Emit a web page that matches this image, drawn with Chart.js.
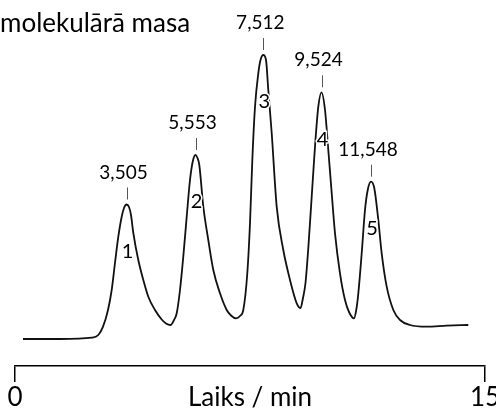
<!DOCTYPE html>
<html><head><meta charset="utf-8">
<script src="https://cdn.jsdelivr.net/npm/chart.js@4/dist/chart.umd.min.js"></script>
<style>html,body{margin:0;padding:0;background:#fff}#wrap{width:496px;height:408px}</style>
</head><body><div id="wrap"><canvas id="c" width="496" height="408"></canvas></div>
<script>
// Time (min) and detector signal (arbitrary units, baseline ~0)
const timeMin = [0.255,1.436,2.457,2.659,2.809,2.968,3.086,3.191,3.297,3.405,3.479,3.559,3.638,3.702,3.776,3.935,4.095,4.254,4.468,4.682,4.819,4.963,5.074,5.161,5.266,5.371,5.480,5.585,5.671,5.761,5.824,5.882,6.010,6.169,6.329,6.543,6.756,6.894,7.053,7.181,7.286,7.414,7.500,7.574,7.660,7.765,7.835,7.925,8.011,8.084,8.193,8.352,8.563,8.777,8.991,9.112,9.191,9.271,9.361,9.469,9.574,9.680,9.782,9.894,9.999,10.108,10.213,10.372,10.532,10.660,10.819,10.896,10.957,11.065,11.170,11.257,11.362,11.467,11.595,11.703,11.863,12.074,12.287,12.606,13.139,13.778,14.467];
const signal = [0,0,1.3,4,12.3,29,49,76,102.3,122.3,131,134.5,132,124,106,79,59,42.3,29,19.5,15.5,14,19,25.7,49,82.3,122.3,159,177.3,184,181,174,132.3,99,69,45.7,29,23.5,20.7,23,29,65.7,115.7,179,232.3,265.7,279,284,279,249,205.7,132.3,89,59,35.7,31,41,56,91,142.3,192.3,232.3,246.7,229,189,145.7,105.7,65.7,39,27,20.7,30,45.7,85.7,129,149,157.3,150.7,119,85.7,52.3,29,19,14,12.3,13.3,14];
const peakTimes = [3.559,5.761,7.925,9.782,11.362];
const peakMasses = ['3,505','5,553','7,512','9,524','11,548'];
const peakNumbers = ['1','2','3','4','5'];
const xTicks = [0,15];
const titleText = 'molekulārā masa';
const xTitle = 'Laiks / min';

const FONT = 'Lato, "Open Sans", sans-serif';

const annot = {
  id: 'annot',
  afterDatasetsDraw(chart) {
    const {ctx, scales: {x, y}} = chart;
    ctx.save();
    ctx.fillStyle = '#000';
    ctx.font = '26px ' + FONT;
    ctx.textAlign = 'left';
    ctx.textBaseline = 'alphabetic';
    ctx.fillText(titleText, 0, 32);
    peakTimes.forEach((t, i) => {
      let k = 0;
      timeMin.forEach((v, j) => { if (Math.abs(v - t) < Math.abs(timeMin[k] - t)) k = j; });
      const px = x.getPixelForValue(timeMin[k]);
      const py = y.getPixelForValue(signal[k]);
      const lx = Math.round(px) + 0.5;
      ctx.strokeStyle = '#555';
      ctx.lineWidth = 1;
      ctx.beginPath();
      ctx.moveTo(lx, py - 17);
      ctx.lineTo(lx, py - 5);
      ctx.stroke();
      ctx.font = '19px ' + FONT;
      ctx.textAlign = 'center';
      ctx.textBaseline = 'alphabetic';
      ctx.fillStyle = '#000';
      ctx.fillText(peakMasses[i], px - 3, py - 26);
      ctx.font = '20px ' + FONT;
      ctx.textBaseline = 'middle';
      ctx.lineWidth = 3;
      ctx.strokeStyle = '#fff';
      ctx.strokeText(peakNumbers[i], px + 1, py + 47);
      ctx.fillText(peakNumbers[i], px + 1, py + 47);
    });
    ctx.restore();
  }
};

new Chart(document.getElementById('c'), {
  type: 'line',
  data: {
    datasets: [{
      data: timeMin.map((t, i) => ({x: t, y: signal[i]})),
      borderColor: '#111',
      borderWidth: 1.8,
      pointRadius: 0,
      fill: false,
      cubicInterpolationMode: 'monotone'
    }]
  },
  options: {
    responsive: false,
    animation: false,
    devicePixelRatio: 1,
    layout: {padding: {top: 40, left: 15, right: 11, bottom: 0}},
    plugins: {legend: {display: false}, tooltip: {enabled: false}, title: {display: false}},
    scales: {
      x: {
        type: 'linear', min: 0, max: 15,
        afterBuildTicks: s => { s.ticks = xTicks.map(v => ({value: v})); },
        afterFit: s => { s.height = 42; s.paddingLeft = 0; s.paddingRight = 0; },
        ticks: {font: {family: FONT, size: 26}, color: '#000', padding: 0, maxRotation: 0, autoSkip: false},
        grid: {display: true, drawOnChartArea: false, drawTicks: true, tickLength: 16, color: '#000', lineWidth: 1.5},
        border: {display: true, color: '#000', width: 1.5},
        title: {display: true, text: xTitle, font: {family: FONT, size: 26}, color: '#000', padding: {top: 0, bottom: -5}}
      },
      y: {display: false, min: -27, max: 299}
    }
  },
  plugins: [annot]
});
</script></body></html>
